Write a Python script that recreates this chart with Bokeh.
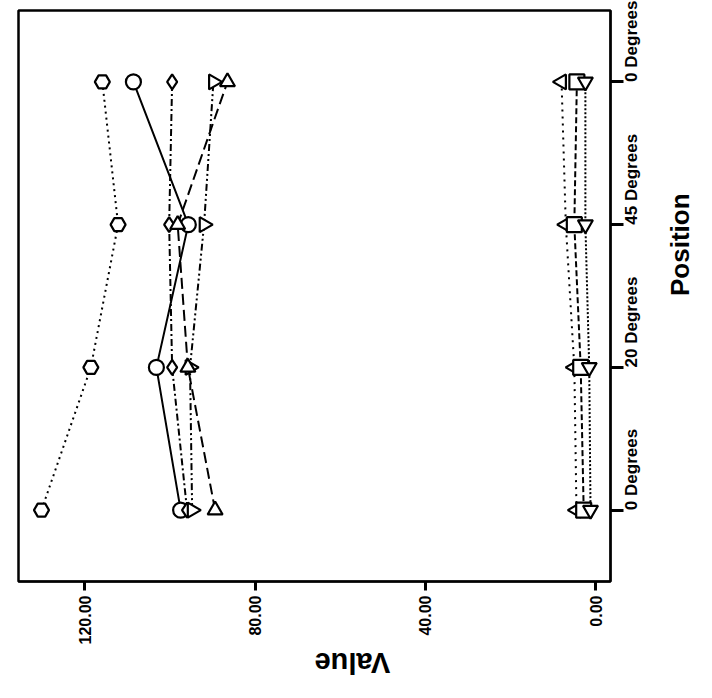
import math
from bokeh.plotting import figure
from bokeh.models import Range1d, FixedTicker, NumeralTickFormatter
from bokeh.embed import file_html
from bokeh.resources import INLINE

# Categories (position index along the rotated axis)
positions = ["0 Degrees", "20 Degrees", "45 Degrees", "0 Degrees"]
pos_index = [0, 1, 2, 3]
value_ticks = [0, 40, 80, 120]

# Series values (one value per position)
s_hexagon = [130.2, 118.6, 112.2, 115.9]
s_circle = [97.5, 103.2, 95.7, 108.6]
s_diamond = [96.0, 99.5, 100.2, 99.5]
s_tri_right = [94.8, 95.3, 92.0, 89.8]
s_tri_up = [89.4, 95.8, 98.2, 86.5]
s_tri_left = [4.5, 5.0, 7.0, 8.0]
s_square = [2.8, 3.5, 5.0, 4.4]
s_tri_down = [1.2, 1.5, 2.4, 2.4]

FONT = "Liberation Sans"

p = figure(width=712, height=698, output_backend="svg", toolbar_location=None,
           x_range=Range1d(135.6, -3.5), y_range=Range1d(-0.5, 3.5),
           y_axis_location="right",
           min_border_left=18, min_border_right=100, min_border_top=10, min_border_bottom=115)
p.grid.visible = False
p.outline_line_color = "black"
p.outline_line_width = 2.5
p.background_fill_color = "white"
p.border_fill_color = "white"

# bottom (value) axis
xa = p.xaxis[0]
xa.ticker = FixedTicker(ticks=value_ticks)
xa.formatter = NumeralTickFormatter(format="0.00")
xa.major_label_orientation = math.pi / 2
xa.major_tick_out = 9
xa.major_tick_in = 0
xa.major_tick_line_width = 3
xa.minor_tick_line_color = None
xa.axis_line_width = 2
xa.major_label_standoff = 5
xa.major_label_text_font = FONT
xa.major_label_text_font_style = "bold"
xa.major_label_text_font_size = "16px"
xa.major_label_text_color = "black"
xa.axis_label = "Value"
xa.axis_label_text_font = FONT
xa.axis_label_text_font_style = "bold"
xa.axis_label_text_font_size = "29px"
xa.axis_label_text_line_height = 0.7
xa.axis_label_text_color = "black"
xa.axis_label_standoff = 16

# right (position) axis
ya = p.yaxis[0]
ya.ticker = FixedTicker(ticks=pos_index)
ya.major_label_overrides = {i: lab for i, lab in zip(pos_index, positions)}
ya.major_label_orientation = math.pi / 2
ya.major_tick_out = 13
ya.major_tick_in = 0
ya.major_tick_line_width = 3
ya.minor_tick_line_color = None
ya.axis_line_width = 2
ya.major_label_standoff = 8
ya.major_label_text_font = FONT
ya.major_label_text_font_style = "bold"
ya.major_label_text_font_size = "17px"
ya.major_label_text_color = "black"
ya.axis_label = "Position"
ya.axis_label_text_font = FONT
ya.axis_label_text_font_style = "bold"
ya.axis_label_text_font_size = "26px"
ya.axis_label_text_line_height = 0.7
ya.axis_label_text_color = "black"
ya.axis_label_standoff = 26

if "axis_label_orientation" in xa.properties():
    xa.axis_label_orientation = math.pi
    ya.axis_label_orientation = math.pi / 2

series = [
    (s_hexagon, "hex", 0, "2 4"),
    (s_circle, "circle", 0, "solid"),
    (s_diamond, "diamond", 0, "7 3 2 3"),
    (s_tri_right, "triangle", -math.pi / 2, "7 3 2 3 2 3"),
    (s_tri_up, "triangle", 0, "11 5"),
    (s_tri_left, "triangle", math.pi / 2, "2 5"),
    (s_square, "square", 0, "6 3"),
    (s_tri_down, "inverted_triangle", 0, "2 2"),
]

for vals, marker, ang, dash in series:
    p.line(x=vals, y=pos_index, line_color="black", line_width=2, line_dash=dash)
for vals, marker, ang, dash in series:
    p.scatter(x=vals, y=pos_index, marker=marker, angle=ang, size=15,
              line_color="black", line_width=2.2, fill_color="white")

open("out.html", "w").write(file_html(p, INLINE))
